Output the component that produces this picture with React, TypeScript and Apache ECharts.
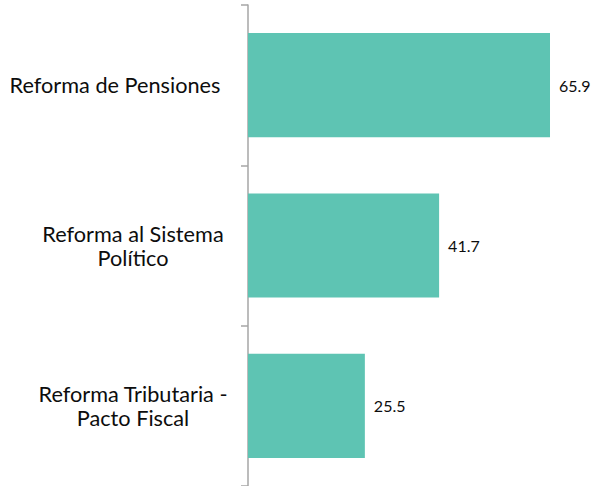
import React, { useEffect, useRef } from "react";
import * as echarts from "echarts";

const categories = [
  "Reforma de Pensiones",
  "Reforma al Sistema\nPolítico",
  "Reforma Tributaria -\nPacto Fiscal",
];
const values = [65.9, 41.7, 25.5];

export default function App() {
  const ref = useRef<HTMLDivElement>(null);
  useEffect(() => {
    if (!ref.current) return;
    const chart = echarts.init(ref.current, undefined, { renderer: "svg" });
    chart.setOption({
      animation: false,
      backgroundColor: "#ffffff",
      grid: { left: 248, top: 5, width: 320.8, height: 481, containLabel: false },
      xAxis: {
        type: "value",
        min: 0,
        max: 70,
        show: false,
      },
      yAxis: {
        type: "category",
        inverse: true,
        data: categories,
        axisLine: { show: true, lineStyle: { color: "#a6a6a6", width: 1.5 } },
        axisTick: { show: true, length: 7, lineStyle: { color: "#a6a6a6", width: 1.5 } },
        axisLabel: {
          margin: 115,
          align: "center",
          fontFamily: "Lato",
          fontSize: 21.7,
          lineHeight: 24,
          color: "#0d0d0d",
          formatter: (v: string, i: number) =>
            i === 0 ? "{a|" + v + "}" : v,
          rich: {
            a: {
              fontFamily: "Lato",
              fontSize: 21.7,
              color: "#0d0d0d",
              padding: [0, 36, 0, 0],
            },
          },
        },
      },
      series: [
        {
          type: "bar",
          data: values,
          barCategoryGap: "35%",
          itemStyle: { color: "#5ec4b3" },
          label: {
            show: true,
            position: "right",
            distance: 9,
            fontFamily: "Lato",
            fontSize: 16,
            color: "#0d0d0d",
            formatter: (p: any) => p.value.toFixed(1),
          },
        },
      ],
    });
    return () => chart.dispose();
  }, []);
  return <div ref={ref} style={{ width: 597, height: 486, position: "absolute", left: 0, top: 0 }} />;
}
